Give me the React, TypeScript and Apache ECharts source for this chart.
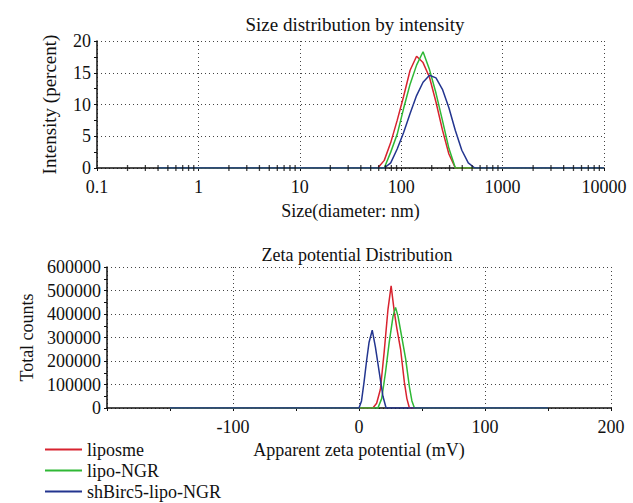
import React, { useEffect, useRef } from "react";
import * as echarts from "echarts";

// ---- Size distribution (nm, intensity %) ----
const sizeBins = [0.4, 58.77, 68.06, 78.82, 91.28, 105.7, 122.4, 141.8, 164.2, 190.1, 220.2, 255.0, 295.3, 342.0, 396.1, 458.7, 531.2, 10000];
const sizeLiposme = [0, 0, 1.2, 4.0, 7.5, 11.3, 15.4, 17.6, 16.6, 14.3, 10.4, 6.0, 2.2, 0, 0, 0, 0, 0];
const sizeLipoNGR = [0, 0, 0, 2.5, 5.3, 9.4, 13.2, 16.2, 18.3, 15.5, 11.8, 7.5, 3.1, 0, 0, 0, 0, 0];
const sizeShBirc5 = [0, 0, 0, 0.8, 3.0, 5.6, 8.6, 11.4, 13.5, 14.6, 14.2, 12.4, 9.5, 5.9, 2.8, 0.8, 0, 0];

// ---- Zeta potential (mV, total counts) ----
const zetaLiposmeX = [-150, 11, 14, 17, 20, 23, 25.5, 28, 30, 33, 36, 38, 40, 150];
const zetaLiposmeY = [0, 0, 20000, 80000, 240000, 420000, 520000, 410000, 340000, 250000, 110000, 40000, 0, 0];
const zetaLipoNGRX = [-150, 15, 18, 21, 24, 27, 29, 31, 34, 37, 40, 42, 44, 150];
const zetaLipoNGRY = [0, 0, 40000, 150000, 280000, 390000, 428000, 390000, 300000, 210000, 90000, 30000, 0, 0];
const zetaShBirc5X = [-150, 0, 2, 4, 6, 8, 10.5, 13, 15, 17, 19, 21.5, 150];
const zetaShBirc5Y = [0, 0, 30000, 110000, 200000, 280000, 331000, 260000, 190000, 120000, 50000, 0, 0];

const seriesNames = ["liposme", "lipo-NGR", "shBirc5-lipo-NGR"];
const seriesColors = ["#d8232f", "#2fb835", "#23358f"];
const sizeTickLabels = ["0.1", "1", "10", "100", "1000", "10000"];
const zetaHiddenLabel = -200;

const FONT = "Liberation Serif";

function pairs(xs: number[], ys: number[]) {
  return xs.map((x, i) => [x, ys[i]]);
}

export default function App() {
  const ref = useRef<HTMLDivElement>(null);
  useEffect(() => {
    if (!ref.current) return;
    const chart = echarts.init(ref.current, null, { renderer: "svg" });

    // log-axis minor tick positions (2..9 in each decade)
    const minorLog: number[][] = [];
    for (let d = -1; d <= 3; d++) {
      for (let k = 2; k <= 9; k++) minorLog.push([k * Math.pow(10, d), 0]);
    }

    const gridLine = { show: true, lineStyle: { color: "#444", type: [1, 3] as any, width: 1 } };
    const axisLine = { show: true, onZero: false, lineStyle: { color: "#111", width: 1.5 } };
    const nameStyle = { fontFamily: FONT, fontSize: 18, color: "#111" };
    const tick = { show: true, length: 3, lineStyle: { color: "#111" } };

    const sizeData = [sizeLiposme, sizeLipoNGR, sizeShBirc5];
    const zetaData = [
      pairs(zetaLiposmeX, zetaLiposmeY),
      pairs(zetaLipoNGRX, zetaLipoNGRY),
      pairs(zetaShBirc5X, zetaShBirc5Y),
    ];

    const series: any[] = [];
    seriesNames.forEach((name, i) => {
      series.push({
        type: "line",
        name,
        xAxisIndex: 0,
        yAxisIndex: 0,
        data: pairs(sizeBins, sizeData[i]),
        showSymbol: false,
        symbol: "none",
        lineStyle: { color: seriesColors[i], width: 1.5 },
        itemStyle: { color: seriesColors[i] },
        z: 3 + i,
      });
    });
    seriesNames.forEach((name, i) => {
      series.push({
        type: "line",
        name,
        xAxisIndex: 1,
        yAxisIndex: 1,
        data: zetaData[i],
        showSymbol: false,
        symbol: "none",
        lineStyle: { color: seriesColors[i], width: 1.5 },
        itemStyle: { color: seriesColors[i] },
        z: 3 + i,
      });
    });
    series.push({
      type: "scatter",
      name: "minorTicks",
      xAxisIndex: 0,
      yAxisIndex: 0,
      data: minorLog,
      symbol: "rect",
      symbolSize: [1.3, 6],
      itemStyle: { color: "#111" },
      silent: true,
      z: 10,
    });

    chart.setOption({
      animation: false,
      backgroundColor: "#fff",
      title: [
        {
          text: "Size distribution by intensity",
          left: 350,
          textAlign: "center",
          top: 10,
          textStyle: { fontFamily: FONT, fontSize: 19, fontWeight: "normal", color: "#111" },
        },
        {
          text: "Zeta potential Distribution",
          left: 352,
          textAlign: "center",
          top: 241,
          textStyle: { fontFamily: FONT, fontSize: 18, fontWeight: "normal", color: "#111" },
        },
      ],
      legend: {
        data: seriesNames,
        orient: "vertical",
        left: 45,
        top: 440,
        height: 63,
        padding: 0,
        icon: "rect",
        itemWidth: 37,
        itemHeight: 2,
        itemGap: 2,
        textStyle: { fontFamily: FONT, fontSize: 18, lineHeight: 19, color: "#111" },
      },
      grid: [
        { left: 97, right: 29, top: 41, height: 127 },
        { left: 107, right: 22, top: 267, height: 141 },
      ],
      xAxis: [
        {
          type: "log",
          gridIndex: 0,
          logBase: 10,
          min: 0.1,
          max: 10000,
          axisLine,
          axisTick: tick,
          splitLine: gridLine,
          axisLabel: {
            fontFamily: FONT,
            fontSize: 18,
            color: "#111",
            margin: 10,
            showMaxLabel: true,
            formatter: (v: number) => {
              const idx = Math.round(Math.log10(v)) + 1;
              return sizeTickLabels[idx] ?? "";
            },
          },
          name: "Size(diameter: nm)",
          nameLocation: "middle",
          nameGap: 34,
          nameTextStyle: nameStyle,
        },
        {
          type: "value",
          gridIndex: 1,
          min: -200,
          max: 200,
          interval: 100,
          axisLine,
          axisTick: tick,
          minorTick: { show: true, splitNumber: 2, length: 3, lineStyle: { color: "#111" } },
          splitLine: gridLine,
          axisLabel: {
            fontFamily: FONT,
            fontSize: 18,
            color: "#111",
            margin: 10,
            showMaxLabel: true,
            formatter: (v: number) => (v === zetaHiddenLabel ? "" : String(v)),
          },
          name: "Apparent zeta potential (mV)",
          nameLocation: "middle",
          nameGap: 33,
          nameTextStyle: nameStyle,
        },
      ],
      yAxis: [
        {
          type: "value",
          gridIndex: 0,
          min: 0,
          max: 20,
          interval: 5,
          axisLine,
          axisTick: tick,
          minorTick: { show: true, splitNumber: 2, length: 3, lineStyle: { color: "#111" } },
          splitLine: gridLine,
          axisLabel: { fontFamily: FONT, fontSize: 18, color: "#111", margin: 6, formatter: (v: number) => String(v) },
          name: "Intensity (percent)",
          nameLocation: "middle",
          nameGap: 38,
          nameTextStyle: { ...nameStyle, fontSize: 19 },
        },
        {
          type: "value",
          gridIndex: 1,
          min: 0,
          max: 600000,
          interval: 100000,
          axisLine,
          axisTick: tick,
          minorTick: { show: true, splitNumber: 2, length: 3, lineStyle: { color: "#111" } },
          splitLine: gridLine,
          axisLabel: { fontFamily: FONT, fontSize: 18, color: "#111", margin: 6, formatter: (v: number) => String(v) },
          name: "Total counts",
          nameLocation: "middle",
          nameGap: 70,
          nameTextStyle: nameStyle,
        },
      ],
      series,
    });

    return () => chart.dispose();
  }, []);

  return <div ref={ref} style={{ width: 633, height: 503, position: "fixed", left: 0, top: 0 }} />;
}
